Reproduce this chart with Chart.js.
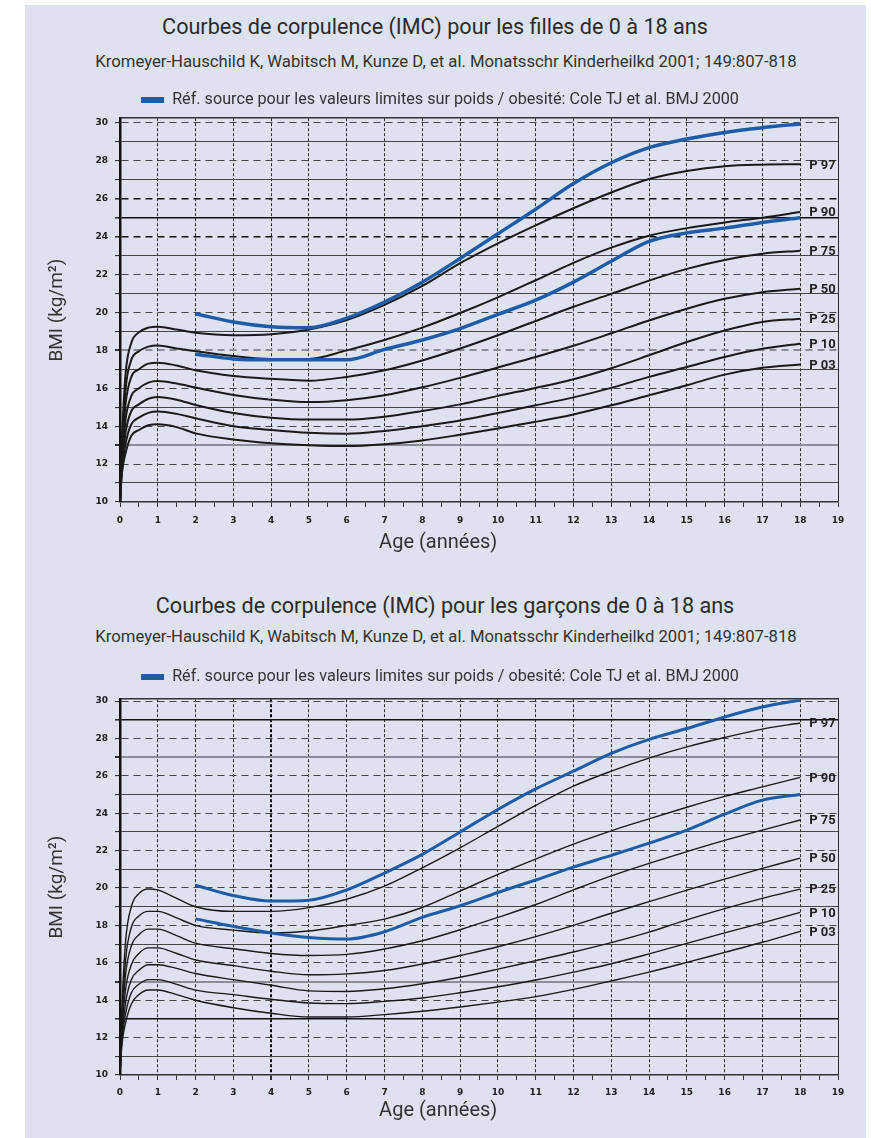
<!DOCTYPE html>
<html>
<head>
<meta charset="utf-8">
<script src="https://cdn.jsdelivr.net/npm/chart.js@4"></script>
<style>
  body { margin: 0; background: #fff; width: 871px; height: 1138px; position: relative; overflow: hidden; }
  #panel { position: absolute; left: 25px; top: 5px; width: 841px; height: 1133px; background: #dee2f0; }
  .t { position: absolute; text-align: center; font-family: Roboto, sans-serif; color: #2b2b2b; white-space: nowrap; }
  .h { font-size: 21.6px; line-height: 24px; }
  .s { font-size: 16.7px; line-height: 20px; color: #333; }
  canvas { position: absolute; left: 25px; }
</style>
</head>
<body>
<div id="panel"></div>
<div class="t h" style="left:0;width:870px;top:15px">Courbes de corpulence (IMC) pour les filles de 0 à 18 ans</div>
<div class="t s" style="left:0;width:892px;top:52px">Kromeyer-Hauschild K, Wabitsch M, Kunze D, et al. Monatsschr Kinderheilkd 2001; 149:807-818</div>
<canvas id="girls" width="841" height="470" style="top:88px"></canvas>
<div class="t h" style="left:0;width:890px;top:594px">Courbes de corpulence (IMC) pour les garçons de 0 à 18 ans</div>
<div class="t s" style="left:0;width:892px;top:627px">Kromeyer-Hauschild K, Wabitsch M, Kunze D, et al. Monatsschr Kinderheilkd 2001; 149:807-818</div>
<canvas id="boys" width="841" height="466" style="top:665px"></canvas>
<script>
// ages (years) for the percentile curves
const ages = [0, 0.05, 0.15, 0.3, 0.5, 0.75, 1, 1.5, 2, 3, 4, 5, 6, 7, 8, 9, 10, 11, 12, 13, 14, 15, 16, 17, 18];
// ages for the Cole cut-off curves
const coleAges = [2, 3, 4, 5, 6, 7, 8, 9, 10, 11, 12, 13, 14, 15, 16, 17, 18];
const xTicks = [0, 1, 2, 3, 4, 5, 6, 7, 8, 9, 10, 11, 12, 13, 14, 15, 16, 17, 18, 19];
const yTickLabels = [10, 12, 14, 16, 18, 20, 22, 24, 26, 28, 30];
const pNames = ['P 03', 'P 10', 'P 25', 'P 50', 'P 75', 'P 90', 'P 97'];
const legendText = 'Réf. source pour les valeurs limites sur poids / obesité: Cole TJ et al. BMJ 2000';

// filles
const girlsP03 = [10, 11.5, 12.6, 13.5, 13.8, 14.05, 14.1, 13.95, 13.62, 13.3, 13.1, 13.0, 12.95, 13.05, 13.25, 13.55, 13.88, 14.23, 14.62, 15.1, 15.63, 16.16, 16.72, 17.08, 17.25];
const girlsP10 = [10, 11.7, 13.1, 14.1, 14.45, 14.7, 14.77, 14.65, 14.42, 14.0, 13.8, 13.65, 13.6, 13.75, 14.0, 14.3, 14.7, 15.1, 15.52, 16.02, 16.6, 17.12, 17.65, 18.08, 18.35];
const girlsP25 = [10, 11.9, 13.7, 14.8, 15.15, 15.45, 15.54, 15.4, 15.12, 14.7, 14.45, 14.35, 14.35, 14.5, 14.8, 15.15, 15.6, 16.02, 16.48, 17.06, 17.74, 18.44, 19.05, 19.5, 19.67];
const girlsP50 = [10, 12.2, 14.4, 15.6, 16.0, 16.3, 16.38, 16.25, 16.04, 15.65, 15.4, 15.27, 15.37, 15.63, 16.05, 16.55, 17.1, 17.65, 18.24, 18.9, 19.58, 20.2, 20.72, 21.07, 21.25];
const girlsP75 = [10, 12.5, 15.2, 16.6, 17.0, 17.3, 17.35, 17.2, 16.95, 16.65, 16.5, 16.4, 16.6, 16.95, 17.47, 18.1, 18.8, 19.55, 20.3, 20.98, 21.68, 22.3, 22.77, 23.1, 23.26];
const girlsP90 = [10, 12.8, 16.0, 17.5, 17.95, 18.2, 18.26, 18.1, 17.95, 17.7, 17.55, 17.55, 18.0, 18.55, 19.2, 19.97, 20.8, 21.7, 22.62, 23.42, 24.05, 24.45, 24.75, 25.0, 25.3];
const girlsP97 = [10, 13.2, 16.8, 18.4, 18.95, 19.2, 19.25, 19.1, 18.93, 18.8, 18.85, 19.1, 19.6, 20.4, 21.4, 22.6, 23.65, 24.6, 25.5, 26.33, 27.04, 27.47, 27.72, 27.8, 27.82];
const girlsObese = [19.93, 19.5, 19.25, 19.2, 19.7, 20.55, 21.6, 22.85, 24.15, 25.45, 26.8, 27.9, 28.7, 29.15, 29.5, 29.75, 29.95];
const girlsOver = [17.8, 17.55, 17.5, 17.5, 17.5, 18.05, 18.55, 19.15, 19.9, 20.65, 21.6, 22.7, 23.75, 24.2, 24.45, 24.75, 25.0];

// garçons
const boysP03 = [10, 11.6, 12.8, 13.8, 14.3, 14.55, 14.55, 14.3, 14.0, 13.6, 13.3, 13.1, 13.1, 13.23, 13.41, 13.64, 13.9, 14.19, 14.58, 15.03, 15.5, 16.02, 16.56, 17.1, 17.68];
const boysP10 = [10, 11.8, 13.3, 14.4, 14.85, 15.1, 15.1, 14.85, 14.54, 14.3, 14.05, 13.85, 13.82, 13.94, 14.12, 14.4, 14.72, 15.08, 15.5, 15.95, 16.48, 17.04, 17.6, 18.14, 18.7];
const boysP25 = [10, 12.0, 13.9, 15.1, 15.6, 15.9, 15.9, 15.7, 15.43, 15.1, 14.8, 14.5, 14.47, 14.61, 14.88, 15.23, 15.66, 16.12, 16.58, 17.08, 17.64, 18.3, 18.9, 19.45, 19.94];
const boysP50 = [10, 12.3, 14.6, 15.9, 16.5, 16.8, 16.8, 16.5, 16.15, 15.85, 15.55, 15.36, 15.41, 15.59, 15.94, 16.39, 16.86, 17.4, 18.0, 18.65, 19.27, 19.89, 20.48, 21.05, 21.6];
const boysP75 = [10, 12.6, 15.4, 16.9, 17.5, 17.8, 17.8, 17.45, 17.05, 16.75, 16.5, 16.39, 16.45, 16.74, 17.18, 17.77, 18.43, 19.12, 19.9, 20.65, 21.32, 21.95, 22.55, 23.1, 23.64];
const boysP90 = [10, 13.0, 16.2, 17.9, 18.5, 18.75, 18.75, 18.4, 18.0, 17.75, 17.6, 17.7, 18.0, 18.34, 18.96, 19.84, 20.73, 21.55, 22.35, 23.06, 23.7, 24.32, 24.9, 25.41, 25.92];
const boysP97 = [10, 13.5, 17.2, 19.0, 19.7, 19.95, 19.9, 19.45, 19.0, 18.75, 18.75, 18.95, 19.4, 20.1, 21.08, 22.15, 23.3, 24.42, 25.45, 26.25, 26.95, 27.55, 28.05, 28.5, 28.83];
const boysObese = [20.15, 19.6, 19.3, 19.35, 19.9, 20.8, 21.8, 23.0, 24.2, 25.3, 26.25, 27.2, 27.95, 28.53, 29.15, 29.68, 30.05];
const boysOver = [18.35, 17.95, 17.6, 17.36, 17.27, 17.66, 18.43, 19.05, 19.76, 20.43, 21.12, 21.75, 22.4, 23.1, 23.95, 24.7, 25.0];

const blue = '#1f5ca8';

function pts(xs, ys) {
  return xs.map((x, i) => ({x: x, y: ys[i]}));
}

// writes "P 97" etc. at the end of each percentile curve
const pLabels = {
  id: 'pLabels',
  afterDatasetsDraw(chart) {
    const ctx = chart.ctx;
    const x = chart.scales.x, y = chart.scales.y;
    ctx.save();
    ctx.font = 'bold 13px "Liberation Sans Narrow", Roboto, sans-serif';
    ctx.fillStyle = '#222';
    ctx.textBaseline = 'middle';
    chart.data.datasets.forEach(ds => {
      if (!ds.label || ds.label.indexOf('P ') !== 0) return;
      const last = ds.data[ds.data.length - 1];
      ctx.fillText(ds.label, x.getPixelForValue(last.x) + 9, y.getPixelForValue(last.y) + 1);
    });
    ctx.restore();
  }
};

function makeChart(id, p, obese, over, o) {
  const datasets = [
    {label: legendText, data: pts(coleAges, obese), borderColor: blue, backgroundColor: blue, borderWidth: o.blueWidth},
    {label: '', data: pts(coleAges, over), borderColor: blue, backgroundColor: blue, borderWidth: o.blueWidth}
  ];
  p.forEach((vals, i) => {
    datasets.push({label: pNames[i], data: pts(ages, vals), borderColor: '#1a1a1a', borderWidth: o.lineWidth});
  });

  // horizontal grid: solid on odd values, dashed on even, a few lines heavier
  const hColor = ctx => {
    const v = ctx.tick ? ctx.tick.value : 0;
    if (o.grayLines.includes(v)) return '#8a8d96';
    if (o.strongLines.includes(v)) return '#111';
    return '#454545';
  };
  const hWidth = ctx => {
    const v = ctx.tick ? ctx.tick.value : 0;
    if (o.grayLines.includes(v)) return 2;
    if (o.strongLines.includes(v)) return 1.6;
    return 1.1;
  };

  return new Chart(document.getElementById(id), {
    type: 'line',
    data: {datasets: datasets},
    plugins: [pLabels],
    options: {
      responsive: false,
      animation: false,
      layout: {padding: {left: 17, right: 28, top: 0, bottom: 0}},
      elements: {
        point: {radius: 0},
        line: {cubicInterpolationMode: 'monotone', fill: false}
      },
      plugins: {
        tooltip: {enabled: false},
        legend: {
          position: 'top',
          labels: {
            boxWidth: 23, boxHeight: 6, padding: 4,
            color: '#333',
            font: {family: 'Roboto', size: 16.2},
            generateLabels: chart => Chart.defaults.plugins.legend.labels.generateLabels(chart)
              .filter(it => it.datasetIndex === 0)
              .map(it => Object.assign(it, {lineWidth: 0}))
          }
        }
      },
      scales: {
        x: {
          type: 'linear', min: 0, max: 19,
          afterBuildTicks: s => {
            const t = [];
            xTicks.forEach(v => { t.push({value: v}); if (v < 19) t.push({value: v + 0.5}); });
            s.ticks = t;
          },
          afterFit: s => { s.height = 56; },
          ticks: {
            autoSkip: false, maxRotation: 0, padding: o.xPad,
            color: '#222', font: {family: 'DejaVu Sans', size: 9, weight: 'bold'},
            callback: v => Number.isInteger(v) ? v : ''
          },
          grid: {
            color: ctx => ctx.tick && Number.isInteger(ctx.tick.value) ? (ctx.tick.value === o.boldX ? '#000' : '#2a2a2a') : 'rgba(0,0,0,0)',
            lineWidth: ctx => ctx.tick && ctx.tick.value === o.boldX ? 2 : 1,
            tickLength: 5, tickColor: '#333'
          },
          border: {
            color: '#333', width: 1.5,
            dash: ctx => ctx.tick && ctx.tick.value !== 19 ? [3, 2] : []
          },
          title: {
            display: true, text: 'Age (années)\u2003\u2003\u2003\u2003',
            color: '#333', font: {family: 'Roboto', size: 20},
            padding: {top: 0, bottom: o.titlePad}
          }
        },
        xTop: {
          type: 'linear', position: 'top', min: 0, max: 19, display: true,
          afterFit: s => { s.height = o.topGap; },
          ticks: {display: false},
          grid: {display: false, drawTicks: false},
          border: {display: true, color: '#333', width: 1.5}
        },
        y: {
          type: 'linear', min: 10, max: o.yMax,
          afterBuildTicks: s => {
            const t = [];
            for (let v = yTickLabels[0]; v <= yTickLabels[yTickLabels.length - 1]; v++) t.push({value: v});
            s.ticks = t;
          },
          afterFit: s => { s.width = 78; },
          ticks: {
            autoSkip: false, padding: 7,
            color: '#222', font: {family: 'DejaVu Sans', size: 9, weight: 'bold'},
            callback: v => yTickLabels.includes(v) ? v : ''
          },
          grid: {color: hColor, lineWidth: hWidth, tickLength: 5, tickColor: '#333'},
          border: {
            color: '#111', width: 2.5,
            dash: ctx => ctx.tick && ctx.tick.value % 2 === 0 ? [7, 5] : []
          },
          title: {
            display: true, text: 'BMI (kg/m²)',
            color: '#333', font: {family: 'Roboto', size: 19},
            padding: {top: 4, bottom: 0}
          }
        }
      }
    }
  });
}

makeChart('girls', [girlsP03, girlsP10, girlsP25, girlsP50, girlsP75, girlsP90, girlsP97], girlsObese, girlsOver,
  {yMax: 30.25, topGap: 0, xPad: 8, titlePad: 3, lineWidth: 2, blueWidth: 3.5,
   strongLines: [24, 25, 26], grayLines: [13, 18], boldX: -1});
makeChart('boys', [boysP03, boysP10, boysP25, boysP50, boysP75, boysP90, boysP97], boysObese, boysOver,
  {yMax: 30.1, topGap: 4, xPad: 7, titlePad: 8, lineWidth: 1.4, blueWidth: 3,
   strongLines: [13, 29], grayLines: [15, 27], boldX: 4});
</script>
</body>
</html>
